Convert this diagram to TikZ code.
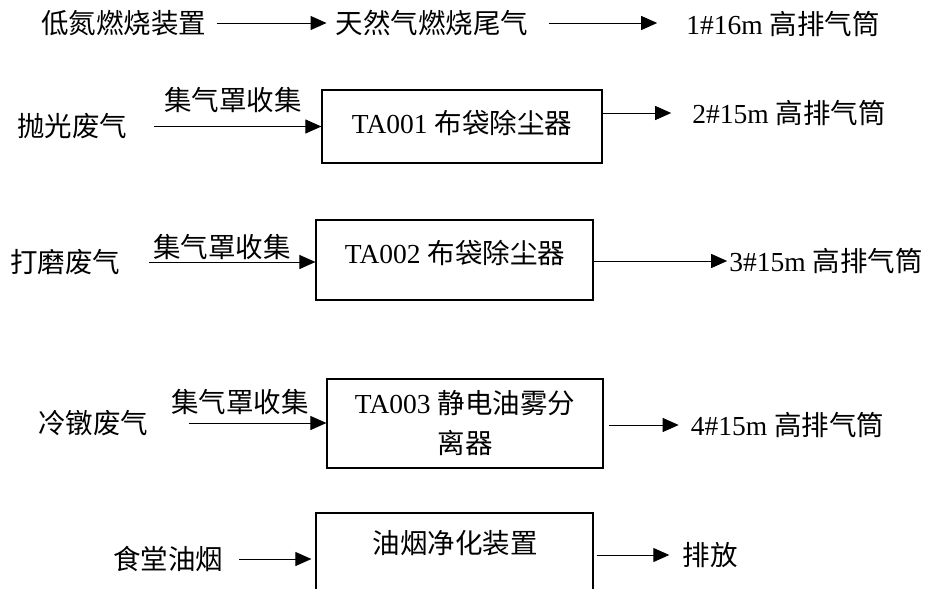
\documentclass[tikz,border=0pt]{standalone}
\usepackage{fontspec}
\setmainfont{Liberation Serif}
\newfontfamily\cjk{Noto Sans CJK SC}
\usetikzlibrary{arrows.meta}

\begin{document}
\begin{tikzpicture}[x=1pt, y=-1pt,
    every node/.style={inner sep=0pt, font=\cjk\fontsize{27.5}{40}\selectfont},
    box/.style={draw, line width=1.2pt},
    arr/.style={-{Triangle[length=16pt,width=14pt]}, line width=1pt}]
         \useasboundingbox (0, 0) rectangle (927, 589);
         % first row
         \node (DN) at (124, 23) {低氮燃烧装置};
         \node (TW) at (432, 23) {天然气燃烧尾气};
         \node (P1) at (783, 24) {{\rmfamily 1\#16m }高排气筒};
         \draw [arr, shorten <=10pt, shorten >=9pt] (DN) -- (TW);
         \draw [arr, shorten <=21pt, shorten >=29pt] (TW) -- (TW -| P1.west);
         % TA001
         \node (PG) at (72, 126.5) {抛光废气};
         \node [box, minimum width=280pt, minimum height=73pt] (B1) at (462, 126.5) {};
         \node (T1) at (462, 123) {{\rmfamily TA001 }布袋除尘器};
         \node (J1) at (233, 100) {集气罩收集};
         \node (P2) at (789, 113) {{\rmfamily 2\#15m }高排气筒};
         \draw [arr, shorten <=27pt] (PG) -- (B1);
         \draw [arr, shorten >=21pt] (B1.east |- P2) -- (P2);
         % TA002
         \node (DM) at (65, 262) {打磨废气};
         \node [box, minimum width=277pt, minimum height=80pt] (B2) at (454.5, 260) {};
         \node (T2) at (455, 253) {{\rmfamily TA002 }布袋除尘器};
         \node (J2) at (222, 247) {集气罩收集};
         \node (P3) at (826, 261) {{\rmfamily 3\#15m }高排气筒};
         \draw [arr, shorten <=29pt] (DM) -- (DM -| B2.west);
         \draw [arr, shorten >=2pt] (B2.east |- P3) -- (P3);
         % TA003
         \node (LD) at (93, 423) {冷镦废气};
         \node [box, minimum width=276pt, minimum height=89pt] (B3) at (465, 423.5) {};
         \node [align=center] (T3) at (465, 423) {{\rmfamily TA003 }静电油雾分\\离器};
         \node (J3) at (240, 402) {集气罩收集};
         \node (P4) at (787.5, 425) {{\rmfamily 4\#15m }高排气筒};
         \draw [arr, shorten <=41pt] (LD) -- (LD -| B3.west);
         \draw [arr, shorten <=5pt, shorten >=12pt] (B3.east |- P4) -- (P4);
         % kitchen
         \node (ST) at (168, 559) {食堂油烟};
         \node [box, minimum width=277pt, minimum height=100pt] (B5) at (454.5, 563) {};
         \node (T5) at (455, 543) {油烟净化装置};
         \node (PF) at (710, 555) {排放};
         \draw [arr, shorten <=16pt, shorten >=4pt] (ST) -- (ST -| B5.west);
         \draw [arr, shorten <=3pt, shorten >=13pt] (B5.east |- PF) -- (PF);
\end{tikzpicture}
\end{document}
